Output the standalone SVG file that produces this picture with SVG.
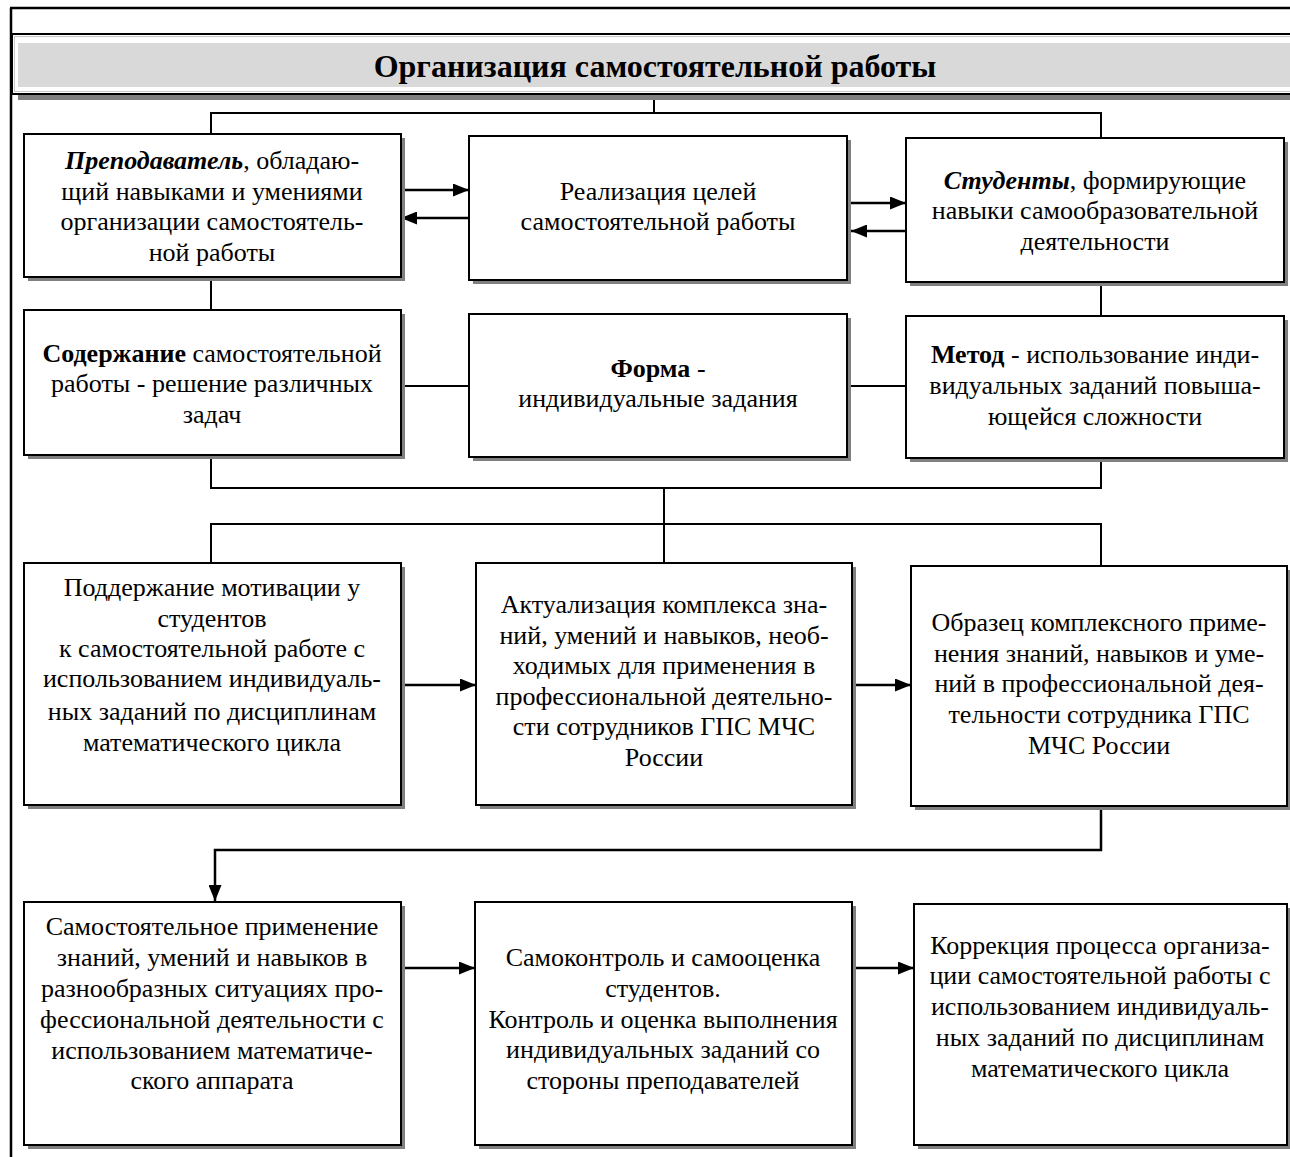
<svg xmlns="http://www.w3.org/2000/svg" width="1290" height="1157" viewBox="0 0 1290 1157">
<defs>
<style>
.sh{fill:#808080}
.bx{fill:#fff;stroke:#000;stroke-width:2}
.t{font-family:"Liberation Serif","Times New Roman",serif;font-size:26px;fill:#000;text-anchor:middle}
.b{font-weight:bold}
.bi{font-weight:bold;font-style:italic}
.ln{fill:none;stroke:#000;stroke-width:2}
.ar{fill:none;stroke:#000;stroke-width:2.5}
</style>
<marker id="ah2" markerWidth="16" markerHeight="13" refX="16" refY="6.5" orient="auto" markerUnits="userSpaceOnUse" viewBox="0 0 16 13">
<path d="M0,0 L16,6.5 L0,13 z" fill="#000"/>
</marker>
</defs>
<rect width="1290" height="1157" fill="#fff"/>
<g id="frame">
<line x1="10" y1="8" x2="1290" y2="8" stroke="#000" stroke-width="2.5"/>
<line x1="11" y1="8" x2="11" y2="1157" stroke="#000" stroke-width="2.5"/>
</g>
<g id="header">
<rect x="18" y="95" width="1272" height="5" class="sh"/>
<rect x="12" y="34" width="1290" height="60" class="bx"/>
<rect x="14.5" y="36.5" width="1290" height="55" fill="none" stroke="#c8c8c8" stroke-width="1"/>
<rect x="18" y="43" width="1272" height="44" fill="#d9d9d9"/>
<text x="655" y="77" class="t b" style="font-size:32px">Организация самостоятельной работы</text>
</g>
<g id="connectors">
<polyline class="ln" points="654,100 654,113"/>
<polyline class="ln" points="211,133 211,113 1101,113 1101,138"/>
<line class="ar" x1="401" y1="190" x2="469" y2="190" marker-end="url(#ah2)"/>
<line class="ar" x1="469" y1="218" x2="401" y2="218" marker-end="url(#ah2)"/>
<line class="ar" x1="851" y1="203" x2="906" y2="203" marker-end="url(#ah2)"/>
<line class="ar" x1="906" y1="231" x2="851" y2="231" marker-end="url(#ah2)"/>
<line class="ln" x1="211" y1="277" x2="211" y2="310"/>
<line class="ln" x1="1101" y1="282" x2="1101" y2="316"/>
<line class="ln" x1="401" y1="386" x2="469" y2="386"/>
<line class="ln" x1="847" y1="386" x2="906" y2="386"/>
<polyline class="ln" points="211,455 211,488 1101,488 1101,458"/>
<line class="ln" x1="664" y1="488" x2="664" y2="563"/>
<polyline class="ln" points="211,563 211,524 1101,524 1101,566"/>
<line class="ar" x1="401" y1="685" x2="476" y2="685" marker-end="url(#ah2)"/>
<line class="ar" x1="852" y1="685" x2="911" y2="685" marker-end="url(#ah2)"/>
<polyline class="ar" points="1101,806 1101,850 215,850 215,901" marker-end="url(#ah2)"/>
<line class="ar" x1="401" y1="968" x2="475" y2="968" marker-end="url(#ah2)"/>
<line class="ar" x1="852" y1="968" x2="914" y2="968" marker-end="url(#ah2)"/>
</g>
<g id="n-teacher">
<rect x="28" y="138" width="377" height="143" class="sh"/>
<rect x="24" y="134" width="377" height="143" class="bx"/>
<text class="t"><tspan x="212" y="169"><tspan class="bi">Преподаватель</tspan>, обладаю-</tspan><tspan x="212" y="200">щий навыками  и умениями</tspan><tspan x="212" y="230">организации самостоятель-</tspan><tspan x="212" y="261">ной работы</tspan></text>
</g>
<g id="n-goals">
<rect x="473" y="140" width="378" height="144" class="sh"/>
<rect x="469" y="136" width="378" height="144" class="bx"/>
<text class="t"><tspan x="658" y="200">Реализация целей</tspan><tspan x="658" y="230">самостоятельной работы</tspan></text>
</g>
<g id="n-students">
<rect x="910" y="142" width="378" height="144" class="sh"/>
<rect x="906" y="138" width="378" height="144" class="bx"/>
<text class="t"><tspan x="1095" y="189"><tspan class="bi">Студенты</tspan>, формирующие</tspan><tspan x="1095" y="219">навыки самообразовательной</tspan><tspan x="1095" y="250">деятельности</tspan></text>
</g>
<g id="n-content">
<rect x="28" y="314" width="377" height="145" class="sh"/>
<rect x="24" y="310" width="377" height="145" class="bx"/>
<text class="t"><tspan x="212" y="362"><tspan class="b">Содержание</tspan> самостоятельной</tspan><tspan x="212" y="392">работы - решение различных</tspan><tspan x="212" y="423">задач</tspan></text>
</g>
<g id="n-form">
<rect x="473" y="318" width="378" height="143" class="sh"/>
<rect x="469" y="314" width="378" height="143" class="bx"/>
<text class="t"><tspan x="658" y="377"><tspan class="b">Форма</tspan> -</tspan><tspan x="658" y="407">индивидуальные задания</tspan></text>
</g>
<g id="n-method">
<rect x="910" y="320" width="378" height="142" class="sh"/>
<rect x="906" y="316" width="378" height="142" class="bx"/>
<text class="t"><tspan x="1095" y="363"><tspan class="b">Метод</tspan> - использование инди-</tspan><tspan x="1095" y="394">видуальных заданий повыша-</tspan><tspan x="1095" y="425">ющейся сложности</tspan></text>
</g>
<g id="n-motivation">
<rect x="28" y="567" width="377" height="242" class="sh"/>
<rect x="24" y="563" width="377" height="242" class="bx"/>
<text class="t"><tspan x="212" y="596">Поддержание мотивации у</tspan><tspan x="212" y="627">студентов</tspan><tspan x="212" y="657">к самостоятельной работе с</tspan><tspan x="212" y="687">использованием индивидуаль-</tspan><tspan x="212" y="720">ных заданий по дисциплинам</tspan><tspan x="212" y="751">математического цикла</tspan></text>
</g>
<g id="n-actual">
<rect x="480" y="567" width="376" height="242" class="sh"/>
<rect x="476" y="563" width="376" height="242" class="bx"/>
<text class="t"><tspan x="664" y="613">Актуализация комплекса зна-</tspan><tspan x="664" y="644">ний, умений и навыков, необ-</tspan><tspan x="664" y="674">ходимых для применения в</tspan><tspan x="664" y="705">профессиональной деятельно-</tspan><tspan x="664" y="735">сти сотрудников ГПС МЧС</tspan><tspan x="664" y="766">России</tspan></text>
</g>
<g id="n-sample">
<rect x="915" y="570" width="376" height="240" class="sh"/>
<rect x="911" y="566" width="376" height="240" class="bx"/>
<text class="t"><tspan x="1099" y="631">Образец комплексного приме-</tspan><tspan x="1099" y="662">нения знаний, навыков и уме-</tspan><tspan x="1099" y="692">ний в профессиональной дея-</tspan><tspan x="1099" y="723">тельности сотрудника ГПС</tspan><tspan x="1099" y="754">МЧС России</tspan></text>
</g>
<g id="n-apply">
<rect x="28" y="906" width="377" height="243" class="sh"/>
<rect x="24" y="902" width="377" height="243" class="bx"/>
<text class="t"><tspan x="212" y="935">Самостоятельное применение</tspan><tspan x="212" y="966">знаний, умений и навыков в</tspan><tspan x="212" y="997">разнообразных ситуациях про-</tspan><tspan x="212" y="1028">фессиональной деятельности с</tspan><tspan x="212" y="1059">использованием математиче-</tspan><tspan x="212" y="1089">ского аппарата</tspan></text>
</g>
<g id="n-control">
<rect x="479" y="906" width="377" height="243" class="sh"/>
<rect x="475" y="902" width="377" height="243" class="bx"/>
<text class="t"><tspan x="663" y="966">Самоконтроль и самооценка</tspan><tspan x="663" y="997">студентов.</tspan><tspan x="663" y="1028">Контроль и оценка выполнения</tspan><tspan x="663" y="1058">индивидуальных заданий со</tspan><tspan x="663" y="1089">стороны преподавателей</tspan></text>
</g>
<g id="n-correction">
<rect x="918" y="908" width="373" height="241" class="sh"/>
<rect x="914" y="904" width="373" height="241" class="bx"/>
<text class="t"><tspan x="1100" y="954">Коррекция процесса организа-</tspan><tspan x="1100" y="984">ции самостоятельной работы с</tspan><tspan x="1100" y="1015">использованием индивидуаль-</tspan><tspan x="1100" y="1046">ных заданий по дисциплинам</tspan><tspan x="1100" y="1077">математического цикла</tspan></text>
</g>
</svg>
